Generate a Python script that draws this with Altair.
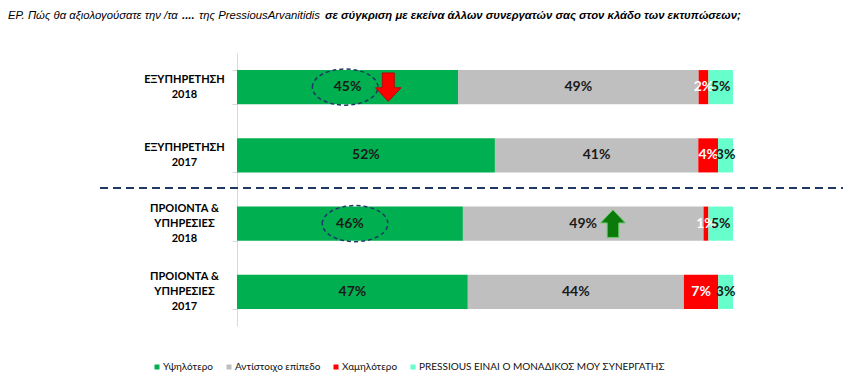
import altair as alt
import pandas as pd

# ---- data ----
categories = ["ΕΞΥΠΗΡΕΤΗΣΗ|2018", "ΕΞΥΠΗΡΕΤΗΣΗ|2017",
              "ΠΡΟΙΟΝΤΑ &|ΥΠΗΡΕΣΙΕΣ|2018", "ΠΡΟΙΟΝΤΑ &|ΥΠΗΡΕΣΙΕΣ|2017"]
series = ["Υψηλότερο", "Αντίστοιχο επίπεδο", "Χαμηλότερο",
          "PRESSIOUS ΕΙΝΑΙ Ο ΜΟΝΑΔΙΚΟΣ ΜΟΥ ΣΥΝΕΡΓΑΤΗΣ"]
colors = ["#00B050", "#BFBFBF", "#FF0000", "#66FFCC"]
label_colors = ["#1a1a1a", "#1a1a1a", "#FFFFFF", "#1a1a1a"]
higher = [45, 52, 46, 47]
same = [49, 41, 49, 44]
lower = [2, 4, 1, 7]
only = [5, 3, 5, 3]

title_parts = ["ΕΡ. Πώς θα αξιολογούσατε την /τα", "....", "της PressiousArvanitidis",
               "σε σύγκριση με εκείνα άλλων συνεργατών σας στον κλάδο των εκτυπώσεων;"]
title_bold = [False, True, False, True]

# annotations (arrows and dashed ellipses)
arrow_cat = [categories[0], categories[2]]
arrow_x = [0.305, 0.758]
arrow_dir = ["down", "up"]
ellipse_cat = [categories[0], categories[2]]
ellipse_x = [0.218, 0.238]

rows = []
for ci, c in enumerate(categories):
    for si, (s, vals) in enumerate(zip(series, [higher, same, lower, only])):
        rows.append({"cat": c, "series": s, "order": si, "value": vals[ci],
                     "tcolor": label_colors[si]})
df = pd.DataFrame(rows)

W, H = 496, 273
ysc = alt.Scale(domain=categories, paddingInner=0.5, paddingOuter=0.25)
xsc = alt.Scale(domain=[0, 1])

base = alt.Chart(df).transform_stack(
    stack="value", as_=["x0", "x1"], groupby=["cat"],
    sort=[alt.SortField("order", order="ascending")], offset="normalize"
).transform_calculate(mid="(datum.x0 + datum.x1) / 2", lab="datum.value + '%'")

bars = base.mark_bar().encode(
    y=alt.Y("cat:N", scale=ysc, sort=categories, title=None,
            axis=alt.Axis(labelExpr="split(datum.label, '|')", labelFont="Lato",
                          labelFontWeight="bold", labelFontSize=11, labelColor="#000000",
                          labelAlign="center", labelPadding=48, labelLineHeight=15,
                          labelBaseline="middle",
                          labelOffset={"condition": {"test": "length(split(datum.value, '|')) == 3",
                                                     "value": -15},
                                       "value": -7.5},
                          domainColor="#D9D9D9", tickColor="#D9D9D9", tickSize=5,
                          tickBand="extent", grid=False)),
    x=alt.X("x0:Q", scale=xsc, axis=None),
    x2="x1:Q",
    color=alt.Color("series:N", scale=alt.Scale(domain=series, range=colors),
                    legend=alt.Legend(title=None, orient="none", legendX=-85, legendY=309,
                                      direction="horizontal", symbolType="square",
                                      symbolSize=25, symbolStrokeWidth=0,
                                      labelFont="Lato", labelFontSize=10,
                                      labelColor="#111111", labelLimit=400,
                                      columnPadding=10, labelOffset=1)),
)

texts = base.mark_text(font="Lato", fontWeight="bold", fontSize=14, baseline="middle").encode(
    y=alt.Y("cat:N", scale=ysc, sort=categories),
    x=alt.X("mid:Q", scale=xsc),
    text="lab:N",
    color=alt.Color("tcolor:N", scale=None),
)

ann_arrow = pd.DataFrame({"cat": arrow_cat, "x": arrow_x, "dir": arrow_dir})
down_path = "M-0.42,-1 L0.42,-1 L0.42,0.05 L0.9,0.05 L0,1 L-0.9,0.05 L-0.42,0.05 Z"
up_path = "M-0.42,1 L0.42,1 L0.42,-0.05 L0.9,-0.05 L0,-1 L-0.9,-0.05 L-0.42,-0.05 Z"
arrow_down = alt.Chart(ann_arrow).transform_filter("datum.dir == 'down'").mark_point(
    shape=down_path, size=800, filled=True, fill="#FF0000", stroke="#C00000",
    strokeWidth=1, opacity=1
).encode(y=alt.Y("cat:N", scale=ysc, sort=categories), x=alt.X("x:Q", scale=xsc))
arrow_up = alt.Chart(ann_arrow).transform_filter("datum.dir == 'up'").mark_point(
    shape=up_path, size=760, filled=True, fill="#0A7A0A", stroke="#66CC66",
    strokeWidth=1, opacity=1
).encode(y=alt.Y("cat:N", scale=ysc, sort=categories), x=alt.X("x:Q", scale=xsc))

ann_ell = pd.DataFrame({"cat": ellipse_cat, "x": ellipse_x})
ell_path = "M-1,0 A1,0.55 0 1,1 1,0 A1,0.55 0 1,1 -1,0 Z"
ellipses = alt.Chart(ann_ell).mark_point(
    shape=ell_path, size=4300, filled=False, stroke="#1F3864", strokeWidth=1.5,
    strokeDash=[4, 3], opacity=1
).encode(y=alt.Y("cat:N", scale=ysc, sort=categories), x=alt.X("x:Q", scale=xsc))

divider = alt.Chart(pd.DataFrame({"a": [0]})).mark_rule(
    color="#1F3864", strokeWidth=2, strokeDash=[8, 5]
).encode(x=alt.value(-137), x2=alt.value(613), y=alt.value(135))

title_x = [-229, -55, -38, 88]
title_df = pd.DataFrame({"t": title_parts, "bold": title_bold, "px": title_x})
title_normal = alt.Chart(title_df).transform_filter("!datum.bold").mark_text(
    font="Liberation Sans", fontStyle="italic", fontSize=11.3, align="left",
    baseline="alphabetic", color="#000000"
).encode(text="t:N", x=alt.X("px:Q", scale=None), y=alt.value(-34))
title_boldm = alt.Chart(title_df).transform_filter("datum.bold").mark_text(
    font="Liberation Sans", fontStyle="italic", fontWeight="bold", fontSize=11.3,
    align="left", baseline="alphabetic", color="#000000"
).encode(text="t:N", x=alt.X("px:Q", scale=None), y=alt.value(-34))

chart = alt.layer(bars, texts, ellipses, arrow_down, arrow_up, divider,
                  title_normal, title_boldm).properties(
    width=W, height=H,
    autosize=alt.AutoSizeParams(type="none"),
    padding={"left": 229, "top": 45, "right": 110, "bottom": 55},
).configure(background="#FFFFFF").configure_view(stroke=None)

chart.save("out.html", embed_options={"renderer": "svg", "actions": False})
